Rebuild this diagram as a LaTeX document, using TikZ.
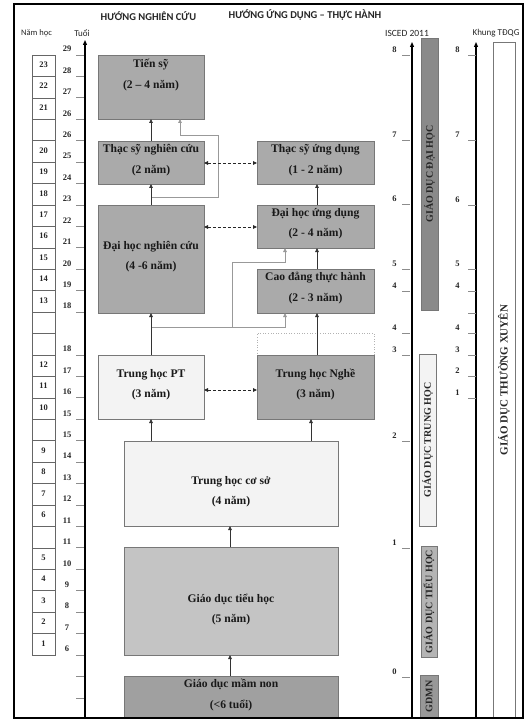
\documentclass[tikz,border=0pt]{standalone}
\usepackage{fontspec}
\setmainfont{Liberation Serif}
\newfontfamily\hdrfont{Carlito}
\usetikzlibrary{arrows.meta,calc}
\definecolor{cDark}{HTML}{AAAAAA}
\definecolor{cLight}{HTML}{F3F3F3}
\definecolor{cMid}{HTML}{C4C4C4}
\definecolor{cMN}{HTML}{A0A0A0}
\definecolor{cBarDH}{HTML}{8A8A8A}
\definecolor{cBarTH}{HTML}{B4B4B4}
\definecolor{cBarMN}{HTML}{989898}
\definecolor{cEdge}{HTML}{777777}
\begin{document}
\begin{tikzpicture}[x=1pt,y=-1pt,
  box/.style={draw=cEdge,line width=0.6pt,anchor=north west,inner sep=0pt,outer sep=0pt},
  txt/.style={align=center,font=\bfseries\fontsize{11.6}{20.5}\selectfont,inner sep=0pt,text=black!90},
  arr/.style={draw=black!80,line width=0.8pt,-{Triangle[length=4pt,width=3.6pt]}},
  garr/.style={draw=black!40,line width=0.8pt,-{Triangle[length=4pt,width=3.6pt]}},
  darr/.style={draw=black!85,line width=0.8pt,dash pattern=on 3pt off 2pt,{Triangle[length=4pt,width=3.6pt]}-{Triangle[length=4pt,width=3.6pt]}},
  axisln/.style={draw=black,line width=1.1pt,-{Triangle[length=5pt,width=4pt]}},
  tickln/.style={draw=black!45,line width=0.8pt},
  num/.style={font=\bfseries\fontsize{8.5}{8.5}\selectfont,inner sep=0pt,text=black!85},
  hd/.style={font=\hdrfont\bfseries\fontsize{10.5}{10.5}\selectfont,inner sep=0pt,text=black!85},
  hl/.style={font=\hdrfont\fontsize{9}{9}\selectfont,inner sep=0pt,text=black!85},
  bar/.style={draw=cEdge,line width=0.7pt,rotate=90,inner sep=0pt,outer sep=0pt,font=\bfseries\fontsize{10}{10}\selectfont,text=black!85},
  cell/.style={draw=black!60,line width=0.6pt,minimum width=23pt,minimum height=21.43pt,inner sep=0pt,font=\bfseries\fontsize{8.5}{8.5}\selectfont,text=black!85},
]
\useasboundingbox (0,0) rectangle (527,719);
\fill[white] (0,0) rectangle (527,719);

% headers
\node[hd] (h1) at (148.5,16.5) {HƯỚNG NGHIÊN CỨU};
\node[hd] (h2) at (305,15.5) {HƯỚNG ỨNG DỤNG – THỰC HÀNH};
\node[hl,font=\hdrfont\fontsize{8.5}{8.5}\selectfont] (h3) at (36.5,33) {Năm học};
\node[hl] (h4) at (82,33) {Tuổi};
\node[hl,font=\hdrfont\fontsize{9.5}{9.5}\selectfont] (h5) at (407,33) {ISCED 2011};
\node[hl] (h6) at (496,33) {Khung TĐQG};

% nam hoc cells
\foreach \i/\t in {0/23,1/22,2/21,3/{},4/20,5/19,6/18,7/17,8/16,9/15,10/14,11/13,12/{},13/{},14/12,15/11,16/10,17/{},18/9,19/8,20/7,21/6,22/{},23/5,24/4,25/3,26/2,27/1}
  \node[cell] (nh\i) at (43.5,{55+21.43*(\i+0.5)}) {\raisebox{2pt}{\t}};

% age axis
\coordinate (ageb) at (85,719);
\coordinate (aget) at (85,40);
\draw[axisln] (ageb) -- (aget);
\foreach \k/\l in {0/29,1/28,2/27,3/26,4/26,5/25,6/24,7/23,8/22,9/21,10/20,11/19,12/18,14/18,15/17,16/16,17/15,18/15,19/14,20/13,21/12,22/11,23/11,24/10,25/9,26/8,27/7,28/6,29/{},30/{}}{
  \draw[tickln] (76,{55+21.43*\k}) -- (84,{55+21.43*\k});
  \node[num] (age\k) at (67,{55+21.43*\k-6}) {\l};
}

% ISCED axis
\coordinate (isb) at (412,719);
\coordinate (ist) at (412,42);
\draw[axisln] (isb) -- (ist);
\foreach \y/\l [count=\c] in {55/8,140/7,204/6,269/5,291/4,333/4,355/3,441/2,548/1,677/0}{
  \draw[tickln] (402,\y) -- (410,\y);
  \node[num] (is\c) at (394.5,\y-5) {\l};
}

% Khung axis
\coordinate (kb) at (476,719);
\coordinate (kt) at (476,42);
\draw[axisln] (kb) -- (kt);
\foreach \y/\l [count=\c] in {55/8,140/7,205/6,269/5,291/4,313/{},333/4,355/3,376/2,398/1}{
  \draw[tickln] (468,\y) -- (476,\y);
  \node[num] (kq\c) at (457.5,\y-5) {\l};
}

% bars
\node[bar,fill=cBarDH,minimum width=272pt,minimum height=17pt] (bDH) at (429.5,174) {GIÁO DỤC ĐẠI HỌC};
\node[bar,fill=cLight,minimum width=172pt,minimum height=17pt] (bTrH) at (427.5,440) {GIÁO DỤC TRUNG HỌC};
\node[bar,fill=cBarTH,minimum width=111pt,minimum height=16pt] (bTH) at (429,601.5) {GIÁO DỤC TIỂU HỌC};
\node[bar,fill=cBarMN,minimum width=43pt,minimum height=18pt] (bMN) at (429,696.5) {GDMN};
\node[bar,fill=white,minimum width=676pt,minimum height=22pt,font=\bfseries\fontsize{11}{11}\selectfont] (bTX) at (504,380) {GIÁO DỤC THƯỜNG XUYÊN};

% boxes
\node[box,fill=cDark,minimum width=106pt,minimum height=64pt] (ts) at (98,55) {};
\node[box,fill=cDark,minimum width=106pt,minimum height=43pt] (tsnc) at (98,141) {};
\node[box,fill=cDark,minimum width=106pt,minimum height=108pt] (dhnc) at (98,205) {};
\node[box,fill=cLight,minimum width=106pt,minimum height=64pt] (thpt) at (98,355) {};
\node[box,fill=cDark,minimum width=117pt,minimum height=43pt] (tsud) at (257,141) {};
\node[box,fill=cDark,minimum width=117pt,minimum height=43pt] (dhud) at (257,205) {};
\node[box,fill=cDark,minimum width=117pt,minimum height=44pt] (cd) at (257,269) {};
\node[box,draw=black!30,dotted,line width=0.8pt,minimum width=117pt,minimum height=22pt] (dotb) at (257,333) {};
\node[box,fill=cDark,minimum width=117pt,minimum height=64pt] (thn) at (257,355) {};
\node[box,fill=cLight,minimum width=214pt,minimum height=85pt] (thcs) at (124,441) {};
\node[box,fill=cMid,minimum width=214pt,minimum height=108pt] (tieu) at (124,547) {};
\node[box,fill=cMN,minimum width=214pt,minimum height=42pt] (mn) at (124,676) {};

% box texts
\node[txt] (tsL) at (151,75) {Tiến sỹ\\(2 – 4 năm)};
\node[txt] (tsncL) at (151,160) {Thạc sỹ nghiên cứu\\(2 năm)};
\node[txt] (dhncL) at (151,256.5) {Đại học nghiên cứu\\(4 -6 năm)};
\node[txt] (thptL) at (151,384.5) {Trung học PT\\(3 năm)};
\node[txt] (tsudL) at (315.5,160) {Thạc sỹ ứng dụng\\(1 - 2 năm)};
\node[txt] (dhudL) at (315.5,223.5) {Đại học ứng dụng\\(2 - 4 năm)};
\node[txt] (cdL) at (315.5,288) {Cao đẳng thực hành\\(2 - 3 năm)};
\node[txt] (thnL) at (315.5,384.5) {Trung học Nghề\\(3 năm)};
\node[txt] (thcsL) at (231,491.5) {Trung học cơ sở\\(4 năm)};
\node[txt] (tieuL) at (231,609.5) {Giáo dục tiểu học\\(5 năm)};
\node[txt] (mnL) at (231,695) {Giáo dục mầm non\\(<6 tuổi)};

% junction coordinates
\coordinate (j1) at (151,197);
\coordinate (j2) at (151,327);
\coordinate (j3) at (232,327);

% gray bypass connectors
\draw[garr] (j1) -| (218,135) -| (ts.south -| 180,0);
\draw[garr] (j2) -| (cd.south -| 285,0);
\draw[garr] (j3) |- (285,262) -- (dhud.south -| 285,0);

% main connectors
\draw[arr] (tsnc.north) -- (ts.south);
\draw[arr] (dhnc.north) -- (tsnc.south);
\draw[arr] (thpt.north) -- (dhnc.south);
\draw[arr] (thcs.north -| thpt.north) -- (thpt.south);
\draw[arr] (thcs.north -| 311,0) -- (thn.south -| 311,0);
\draw[arr] (thn.north -| 317,0) -- (cd.south -| 317,0);
\draw[arr] (cd.north -| 317,0) -- (dhud.south -| 317,0);
\draw[arr] (dhud.north -| 317,0) -- (tsud.south -| 317,0);
\draw[arr] (tieu.north -| 230,0) -- (thcs.south -| 230,0);
\draw[arr] (mn.north -| 230,0) -- (tieu.south -| 230,0);

% dashed double arrows
\draw[darr] (tsnc.east |- 0,163) -- (tsud.west |- 0,163);
\draw[darr] (dhnc.east |- 0,227) -- (dhud.west |- 0,227);
\draw[darr] (thpt.east |- 0,390) -- (thn.west |- 0,390);

% outer frame
\draw[black,line width=1.8pt] (14,4) rectangle (523,718);
\end{tikzpicture}
\end{document}
